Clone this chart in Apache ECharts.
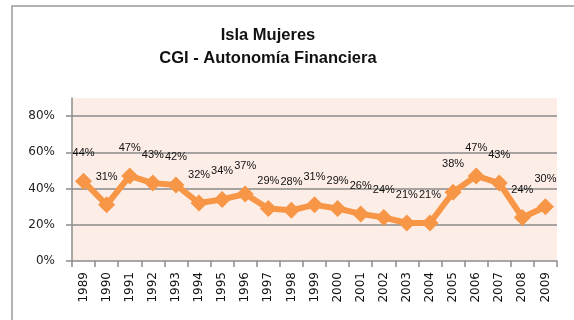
<!DOCTYPE html>
<html>
<head>
<meta charset="utf-8">
<script src="https://cdn.jsdelivr.net/npm/echarts@6/dist/echarts.min.js"></script>
<style>
  html, body { margin: 0; padding: 0; background: #ffffff; }
  #chart { width: 574px; height: 320px; }
</style>
</head>
<body>
<div id="chart"></div>
<script>
// Years on the category axis
const years = ['1989','1990','1991','1992','1993','1994','1995','1996','1997','1998','1999',
               '2000','2001','2002','2003','2004','2005','2006','2007','2008','2009'];
// Financial autonomy ratio per year (share of total)
const autonomia = [0.44,0.31,0.47,0.43,0.42,0.32,0.34,0.37,0.29,0.28,0.31,
                   0.29,0.26,0.24,0.21,0.21,0.38,0.47,0.43,0.24,0.30];
// Value axis ticks
const yTicks = [0, 0.2, 0.4, 0.6, 0.8];

const chart = echarts.init(document.getElementById('chart'), null, { renderer: 'canvas' });

const pct = v => Math.round(v * 100) + '%';

chart.setOption({
  animation: false,
  backgroundColor: '#ffffff',
  title: {
    text: 'Isla Mujeres\nCGI - Autonomía Financiera',
    left: 263,
    top: 19,
    textAlign: 'center',
    textStyle: {
      fontFamily: 'Liberation Sans',
      fontWeight: 'bold',
      fontSize: 16.5,
      lineHeight: 23,
      color: '#111111'
    }
  },
  graphic: [{
    type: 'rect',
    shape: { x: 12, y: 6, width: 600, height: 340 },
    style: { fill: 'none', stroke: '#9a9a9a', lineWidth: 1.5 },
    silent: true,
    z: -1
  }],
  grid: {
    left: 72,
    right: 17,
    top: 98,
    bottom: 59,
    show: true,
    backgroundColor: '#fdede7',
    borderWidth: 0
  },
  xAxis: {
    type: 'category',
    data: years,
    boundaryGap: true,
    axisLine: { lineStyle: { color: '#8c8c8c', width: 1.5 } },
    axisTick: { show: true, alignWithLabel: false, length: 6, lineStyle: { color: '#8c8c8c', width: 1.5 } },
    axisLabel: {
      rotate: 90,
      interval: 0,
      margin: 11,
      fontFamily: 'DejaVu Sans',
      fontSize: 12,
      color: '#111111'
    },
    splitLine: { show: false }
  },
  yAxis: {
    type: 'value',
    min: 0,
    max: 0.9,
    interval: 0.2,
    axisLine: { show: true, lineStyle: { color: '#8c8c8c', width: 1.5 } },
    axisTick: {
      show: true, length: 6,
      lineStyle: { color: '#8c8c8c', width: 1.5 },
      customValues: yTicks
    },
    axisLabel: {
      margin: 17,
      fontFamily: 'DejaVu Sans',
      fontSize: 12,
      color: '#222222',
      customValues: yTicks,
      formatter: v => pct(v)
    },
    splitLine: {
      show: true,
      showMinLine: false,
      lineStyle: { color: '#8a8a8a', width: 1.5 }
    }
  },
  series: [{
    type: 'line',
    data: autonomia,
    symbol: 'diamond',
    symbolSize: 17,
    itemStyle: { color: '#f79646' },
    lineStyle: { color: '#f79646', width: 6 },
    label: {
      show: true,
      position: 'top',
      distance: 14,
      fontFamily: 'Liberation Sans',
      fontSize: 11,
      color: '#111111',
      formatter: p => pct(p.value)
    },
    z: 3
  }]
});
</script>
</body>
</html>
